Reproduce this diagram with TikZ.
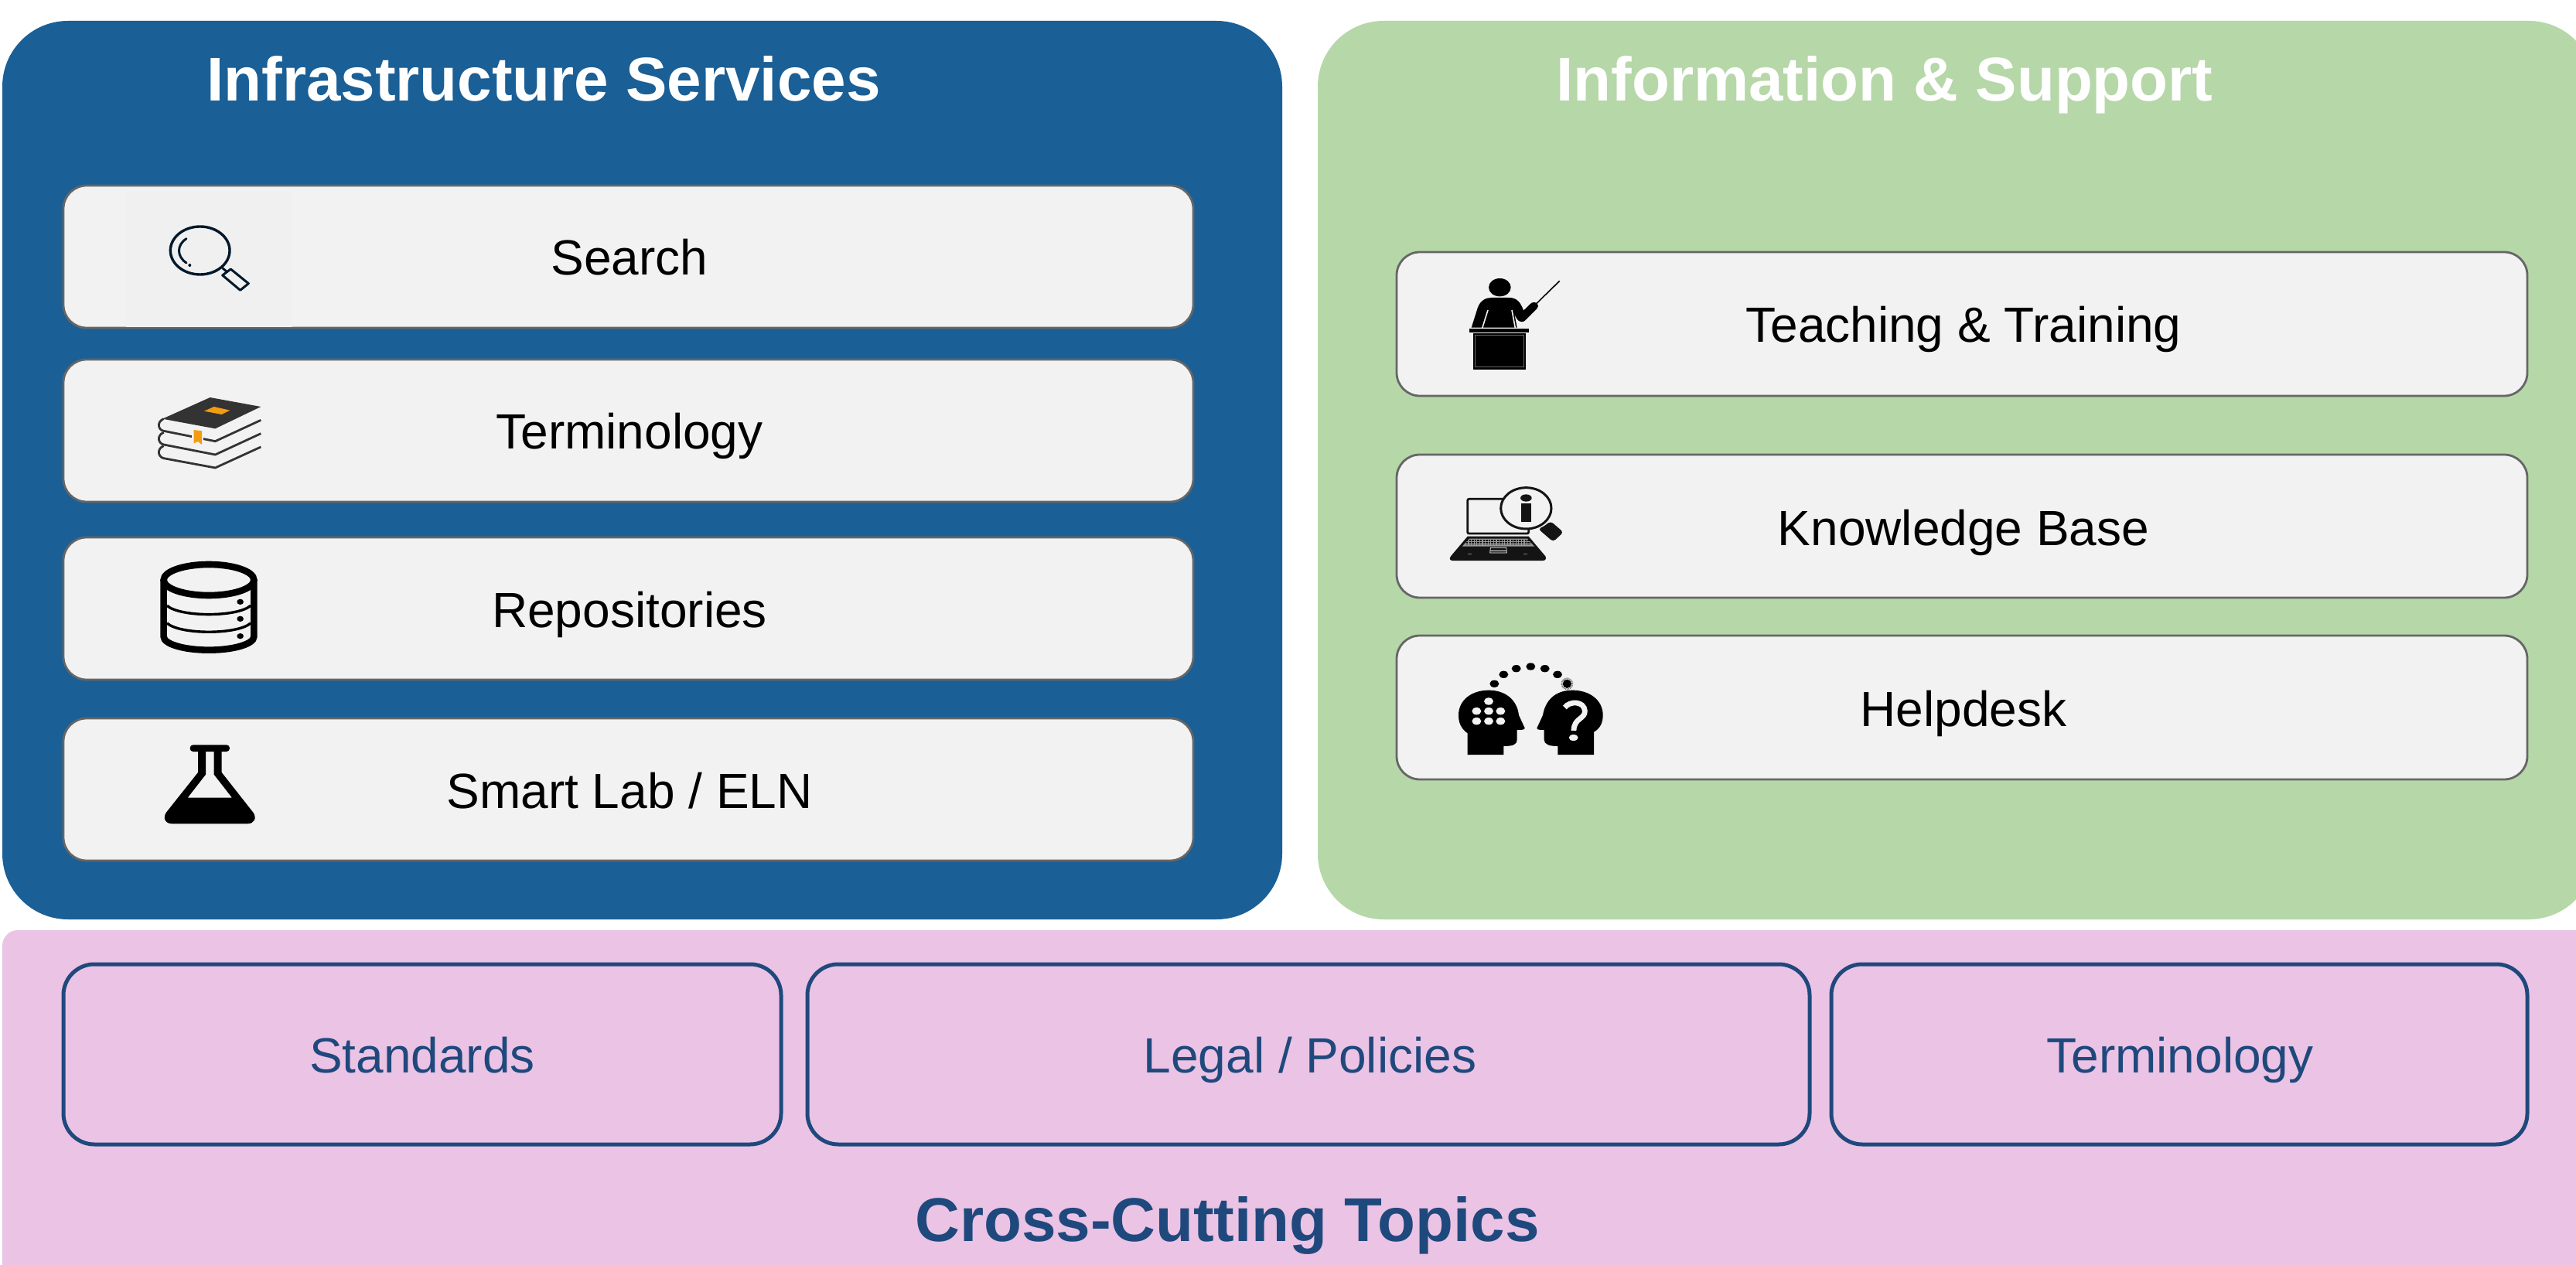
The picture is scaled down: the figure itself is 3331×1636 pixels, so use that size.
\documentclass[tikz,border=0pt]{standalone}
\usepackage{fontspec}
\setmainfont{Liberation Sans}
\definecolor{panelblue}{HTML}{1A5F96}
\definecolor{panelgreen}{HTML}{B6D7A8}
\definecolor{panelpink}{HTML}{EBC3E4}
\definecolor{cardfill}{HTML}{F2F2F2}
\definecolor{patchfill}{HTML}{F0F0F0}
\definecolor{cardline}{HTML}{666666}
\definecolor{navy}{HTML}{1F497D}
\definecolor{inkdark}{HTML}{02182B}
\definecolor{bookdark}{HTML}{333333}
\definecolor{bookorange}{HTML}{F39C12}
\tikzset{
  panel/.style={rounded corners=42.5pt},
  card/.style={fill=cardfill,draw=cardline,line width=1.4pt,rounded corners=15pt},
  topicbox/.style={draw=navy,line width=2.5pt,rounded corners=20pt},
  cardtext/.style={anchor=base,inner sep=0pt,text=black,font=\fontsize{32}{38}\selectfont},
  topictext/.style={anchor=base,inner sep=0pt,text=navy,font=\fontsize{32}{38}\selectfont},
  titletext/.style={anchor=base,inner sep=0pt,text=white,font=\fontsize{40}{48}\selectfont\bfseries},
  crosstext/.style={anchor=base,inner sep=0pt,text=navy,font=\fontsize{40}{48}\selectfont\bfseries},
  zoomed/.style={x=0.16667pt,y=-0.16667pt},
}
\begin{document}
\begin{tikzpicture}[x=0.5pt,y=-0.5pt]
\useasboundingbox (0,0) rectangle (3331,1636);
\clip (0,0) rectangle (3331,1636);
\fill[white] (0,0) rectangle (3331,1636);
% panels
\fill[panelblue,panel] (3,27) rectangle (1658,1189);
\fill[panelgreen,panel] (1704,27) rectangle (3355,1189);
\fill[panelpink,rounded corners=10pt] (3,1203) rectangle (3360,1700);
\node[titletext] (t1) at (703,131) {Infrastructure Services};
\node[titletext] (t2) at (2437,131) {Information \& Support};
% cards left
\path[card] (82,240) rectangle (1543,424);
\path[card] (82,465) rectangle (1543,649);
\path[card] (82,695) rectangle (1543,879);
\path[card] (82,929) rectangle (1543,1113);
\fill[patchfill] (163,247) rectangle (378,423);
\node[cardtext] (search) at (814,356) {Search};
\node[cardtext] (term) at (814,581) {Terminology};
\node[cardtext] (repo) at (814,811) {Repositories};
\node[cardtext] (lab) at (814,1045) {Smart Lab / ELN};
% cards right
\path[card] (1806,326) rectangle (3268,512);
\path[card] (1806,588) rectangle (3268,773);
\path[card] (1806,822) rectangle (3268,1008);
\node[cardtext] (teach) at (2539,443) {Teaching \& Training};
\node[cardtext] (know) at (2539,705) {Knowledge Base};
\node[cardtext] (help) at (2539,939) {Helpdesk};
% topic boxes
\path[topicbox] (82,1247) rectangle (1010,1480);
\path[topicbox] (1044,1247) rectangle (2340,1480);
\path[topicbox] (2368,1247) rectangle (3268,1480);
\node[topictext] (std) at (546,1387) {Standards};
\node[topictext] (legal) at (1694,1387) {Legal / Policies};
\node[topictext] (term2) at (2819,1387) {Terminology};
\node[crosstext] (cross) at (1587,1605) {Cross-Cutting Topics};
% search icon
\begin{scope}[shift={(60,220)},zoomed]
 \draw[inkdark,line width=1.7pt] (596,312) ellipse [x radius=115,y radius=93];
 \draw[inkdark,line width=1.5pt,line cap=round] (543,266) .. controls (505,290) and (505,335) .. (543,360);
 \fill[inkdark] (556,369) circle (6);
 \draw[inkdark,line width=1.5pt] (683,380) -- (702,396);
 \draw[inkdark,line width=1.5pt,line join=round] (683,408) -- (715,384) -- (784,440) -- (752,466) -- cycle;
\end{scope}
% books icon
\begin{scope}[shift={(60,220)},zoomed]
 \fill[bookdark] (635,882) -- (832,918) -- (655,1003) -- (450,965) -- cycle;
 \fill[bookorange] (650,918) -- (712,932) -- (680,948) -- (612,935) -- cycle;
 \draw[bookdark,line width=1.4pt] (455,965) .. controls (428,975) and (432,1008) .. (455,1012) -- (655,1052) -- (832,970);
 \draw[bookdark,line width=1.4pt] (455,1018) .. controls (428,1028) and (432,1060) .. (455,1065) -- (655,1104) -- (832,1022);
 \draw[bookdark,line width=1.4pt] (455,1070) .. controls (428,1080) and (432,1113) .. (455,1118) -- (655,1155) -- (832,1074);
 \fill[cardfill] (564,1005) rectangle (610,1068);
 \fill[bookorange] (572,1008) -- (603,1012) -- (603,1065) -- (588,1053) -- (572,1060) -- cycle;
\end{scope}
% database icon
\begin{scope}[shift={(60,680)},zoomed]
 \draw[black,line width=4.3pt] (455,210) -- (455,430) arc[start angle=180,end angle=0,x radius=175,y radius=52] -- (805,210);
 \draw[black,line width=4.3pt] (630,210) ellipse [x radius=175,y radius=60];
 \draw[black,line width=1.7pt] (468,310) .. controls (520,355) and (740,355) .. (792,310);
 \draw[black,line width=1.7pt] (468,378) .. controls (520,423) and (740,423) .. (792,378);
 \fill[black] (752,295) ellipse [x radius=13,y radius=11];
 \fill[black] (752,361) ellipse [x radius=13,y radius=11];
 \fill[black] (752,428) ellipse [x radius=13,y radius=11];
\end{scope}
% flask icon
\begin{scope}[shift={(60,680)},zoomed]
 \fill[black,even odd rule] (588,870) -- (680,870) -- (680,957) -- (802,1112) .. controls (818,1135) and (805,1156) .. (780,1156) -- (488,1156) .. controls (462,1156) and (450,1135) .. (465,1112) -- (588,957) -- cycle
   (618,870) -- (650,870) -- (650,965) -- (720,1055) -- (548,1055) -- (618,965) -- cycle;
 \fill[black,rounded corners=2pt] (557,850) rectangle (711,876);
\end{scope}
% teacher icon
\begin{scope}[shift={(1790,320)},zoomed]
 \fill[black] (448,155) ellipse [x radius=43,y radius=35];
 \fill[black] (338,311) -- (362,235) .. controls (372,205) and (395,195) .. (415,195) -- (485,195) .. controls (515,195) and (530,215) .. (540,245) -- (570,216) .. controls (590,205) and (605,225) .. (592,238) -- (548,282) .. controls (530,298) and (515,285) .. (505,258) -- (515,311) -- cycle;
 \draw[cardfill,line width=.8pt] (402,243) -- (380,313);
 \draw[cardfill,line width=.8pt] (495,243) -- (508,313);
 \draw[black,line width=.8pt] (590,218) -- (680,130);
 \fill[black] (330,314) rectangle (560,330);
 \fill[black] (344,333) rectangle (548,474);
 \draw[black!60,line width=.3pt] (352,340) rectangle (542,464);
\end{scope}
% laptop icon
\begin{scope}[shift={(1790,600)},zoomed]
 \draw[black!92,line width=1.4pt,rounded corners=1pt] (323,136) rectangle (560,270);
 \fill[black!92] (323,281) -- (560,281) -- (625,358) .. controls (630,368) and (625,375) .. (615,375) -- (265,375) .. controls (255,375) and (250,368) .. (258,358) -- cycle;
 \fill[black!40] (330,290) -- (555,290) -- (582,320) -- (302,320) -- cycle;
 \foreach \yy in {297,304,311} \draw[black,line width=.7pt,dash pattern=on 1.2pt off .6pt] (318,\yy) -- (568,\yy);
 \draw[white,line width=.35pt] (410,345) -- (412,325) -- (473,325) -- (475,345) -- cycle;
 \draw[white,line width=.3pt] (410,336) -- (475,336);
 \draw[black!50,line width=.5pt] (325,350) -- (340,350) (541,350) -- (556,350);
 \fill[black!92,rounded corners=2pt] (618,243) -- (645,222) -- (695,265) -- (655,302) -- (597,252) -- cycle;
 \draw[black!92,fill=cardfill,line width=1.5pt] (550,172) ellipse [x radius=98,y radius=80];
 \fill[black!92] (550,132) ellipse [x radius=22,y radius=14];
 \fill[black!92] (531,152) rectangle (570,226);
\end{scope}
% helpdesk icon
\begin{scope}[shift={(1790,830)},zoomed]
 \fill[black] (323,438) -- (323,355) .. controls (295,335) and (288,310) .. (288,285) .. controls (288,225) and (340,188) .. (405,188) .. controls (470,188) and (515,225) .. (522,285) -- (545,335) .. controls (545,342) and (530,342) .. (515,342) -- (515,380) .. controls (515,398) and (500,405) .. (463,405) -- (463,438) -- cycle;
 \fill[black] (813,438) -- (813,350) .. controls (840,335) and (848,310) .. (848,285) .. controls (848,225) and (795,188) .. (730,188) .. controls (665,188) and (625,225) .. (615,285) -- (592,335) .. controls (592,342) and (605,342) .. (620,342) -- (620,380) .. controls (620,398) and (640,405) .. (673,405) -- (673,438) -- cycle;
 \foreach \xx/\yy in {405/231,358/269,405/269,451/269,358/308,405/308,451/308} \fill[cardfill] (\xx,\yy) ellipse [x radius=18,y radius=14];
 \draw[cardfill,line width=3.4pt] (700,255) .. controls (720,228) and (775,230) .. (778,268) .. controls (780,300) and (735,295) .. (735,345);
 \fill[cardfill] (734,372) ellipse [x radius=18,y radius=12];
 \foreach \xx/\yy in {427/163,463/127,512/104,568/96,623/104,672/127} \fill[black] (\xx,\yy) ellipse [x radius=18,y radius=14];
 \fill[black] (709,163) circle (17);
 \draw[black!60,line width=.9pt,dash pattern=on .5pt off .5pt] (709,163) circle (21);
\end{scope}
\end{tikzpicture}
\end{document}
